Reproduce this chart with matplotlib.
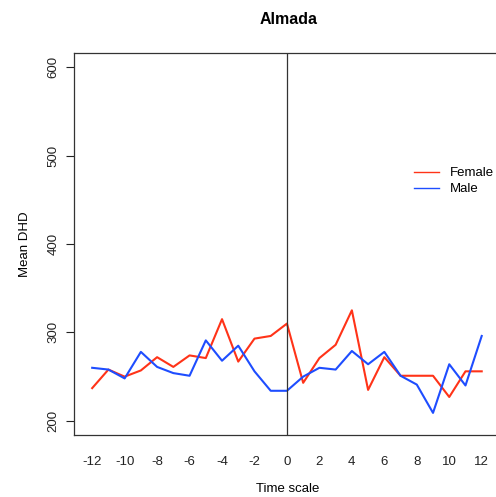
import matplotlib
matplotlib.use("Agg")
import matplotlib.pyplot as plt

plt.rcParams['font.family'] = ['Liberation Sans', 'DejaVu Sans']

time_scale = list(range(-12, 13))
female = [237, 258, 250, 257, 272, 261, 274, 271, 315, 267, 293, 296, 310,
          243, 271, 286, 325, 235, 272, 251, 251, 251, 227, 256, 256]
male = [260, 258, 248, 278, 261, 254, 251, 291, 268, 285, 256, 234, 234,
        250, 260, 258, 279, 264, 278, 251, 241, 209, 264, 240, 296]
y_ticks = [200, 300, 400, 500, 600]
x_ticks = list(range(-12, 13, 2))

W, H = 496, 497
fig = plt.figure(figsize=(W / 100, H / 100), dpi=100)
ax = fig.add_axes([74 / W, (H - 435) / H, (502 - 74) / W, (435 - 53) / H])

ax.plot(time_scale, female, color='#ff3318', lw=1.5, label='Female')
ax.plot(time_scale, male, color='#1e4dff', lw=1.5, label='Male')
ax.axvline(0, color='#333333', lw=0.9)

ax.set_xlim(-13.12, 13.25)
ax.set_ylim(184, 616)
ax.set_yticks(y_ticks)
ax.set_yticklabels([str(v) for v in y_ticks], rotation=90, va='center', fontsize=9.5)
ax.set_xticks(x_ticks)
ax.set_xticklabels([str(v) for v in x_ticks], fontsize=9.5)
ax.tick_params(axis='x', length=0, pad=15, colors='#222222')
ax.tick_params(axis='y', length=5.5, width=0.8, pad=5, colors='#222222')
for s in ax.spines.values():
    s.set_color('#333333')
    s.set_linewidth(0.9)

ax.set_xlabel('Time scale', fontsize=9.5, labelpad=11)
ax.set_ylabel('Mean DHD', fontsize=9.5, labelpad=12)
fig.text(289 / W, 1 - 20 / H, 'Almada', ha='center', va='center',
         fontsize=11.5, fontweight='bold')

leg = ax.legend(loc='upper left', bbox_to_anchor=(414 / W, 1 - 167 / H),
                bbox_transform=fig.transFigure, frameon=False, fontsize=9.5,
                handlelength=1.9, handletextpad=0.85, labelspacing=0.3,
                borderpad=0, borderaxespad=0)
for h in leg.get_lines():
    h.set_linewidth(1.0)

fig.savefig('out.png', dpi=100)
